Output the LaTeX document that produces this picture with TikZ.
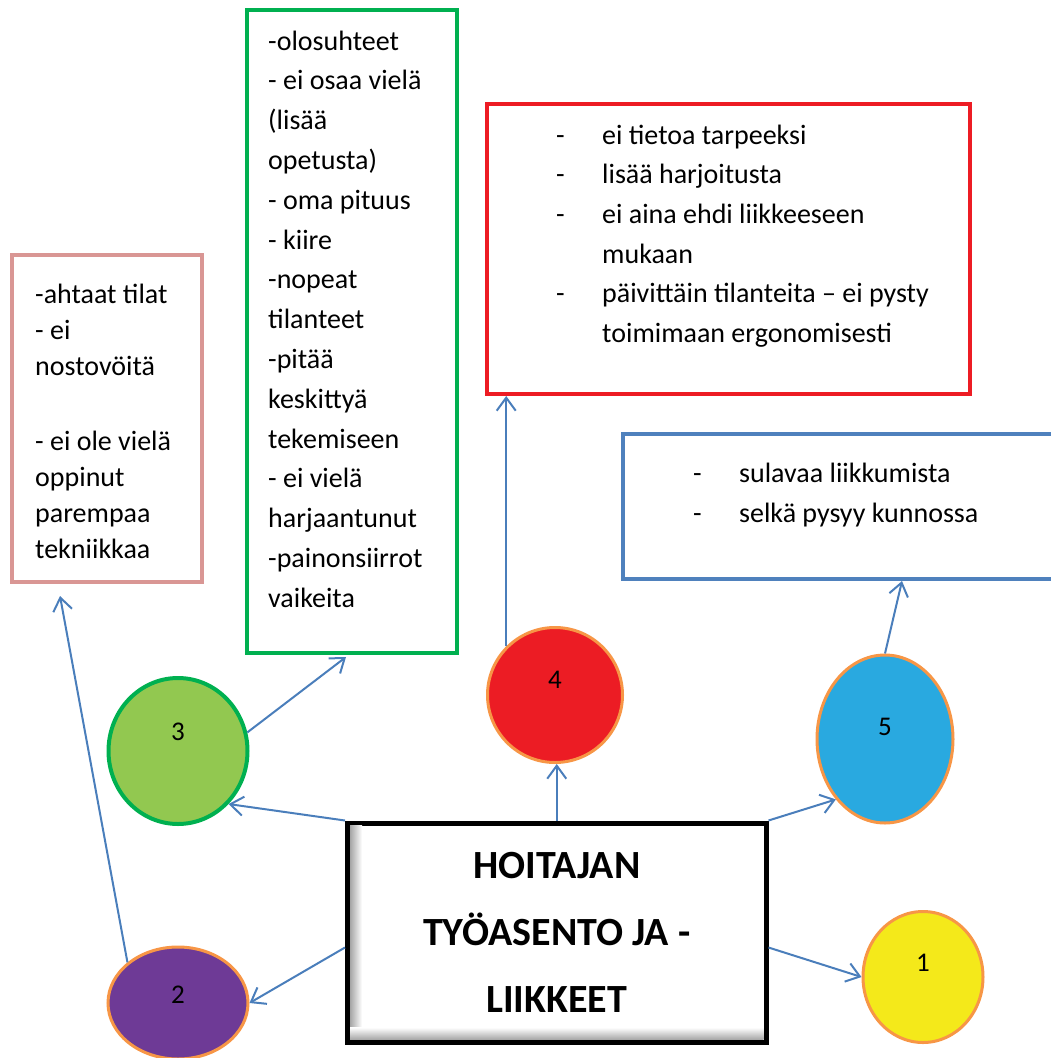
\documentclass[tikz,border=0pt]{standalone}
\usepackage{fontspec}
\setmainfont{Carlito}
\usetikzlibrary{arrows.meta,shapes.geometric}
\definecolor{arrowblue}{HTML}{4A7EBB}
\definecolor{boxpink}{HTML}{D99694}
\definecolor{boxgreen}{HTML}{00B050}
\definecolor{boxred}{HTML}{ED1C24}
\definecolor{boxblue}{HTML}{4F81BD}
\definecolor{ballgreen}{HTML}{92C850}
\definecolor{ballred}{HTML}{EC1C24}
\definecolor{ballblue}{HTML}{29A9E0}
\definecolor{ballpurple}{HTML}{6E3A96}
\definecolor{ballyellow}{HTML}{F4E91A}
\definecolor{ballrim}{HTML}{F79646}
\newcommand{\itemdash}{\makebox[46pt][l]{-}}
\newcommand{\itemgap}{\hspace*{46pt}}

\begin{document}
\begin{tikzpicture}[x=1pt,y=-1pt]
              \tikzstyle{frame}=[draw,line width=4pt,inner sep=0pt]
              \tikzstyle{list}=[anchor=north west,align=left,inner sep=0pt]
              \tikzstyle{ball}=[ellipse,draw=ballrim,line width=3pt,inner sep=0pt,font=\fontsize{27}{30}\selectfont]
              \tikzstyle{link}=[draw=arrowblue,line width=2pt,-{Straight Barb[length=13pt,width=19pt]}]
              \useasboundingbox (0,0) rectangle (1051,1058);
              \clip (0,0) rectangle (1051,1058);
              \node [frame,draw=boxpink,minimum width=190pt,minimum height=327pt] (b2) at (107,418.5) {};
              \node [frame,draw=boxgreen,minimum width=210pt,minimum height=643pt] (b3) at (352,331.5) {};
              \node [frame,draw=boxred,minimum width=483pt,minimum height=290pt] (b4) at (728.5,249) {};
              \node [frame,draw=boxblue,minimum width=558pt,minimum height=145pt] (b5) at (902,506.5) {};
              \node [list,font=\fontsize{28}{36}\selectfont] (t2) at (35,277.8) {\strut-ahtaat tilat\\- ei\\nostovöitä\\[39pt]- ei ole vielä\\oppinut\\parempaa\\tekniikkaa};
              \node [list,font=\fontsize{28}{39.8}\selectfont] (t3) at (268,22.1) {\strut-olosuhteet\\- ei osaa vielä\\(lisää\\opetusta)\\- oma pituus\\- kiire\\-nopeat\\tilanteet\\-pitää\\keskittyä\\tekemiseen\\- ei vielä\\harjaantunut\\-painonsiirrot\\vaikeita};
              \node [list,font=\fontsize{28}{39.6}\selectfont] (t4) at (556,116.3) {\strut\itemdash ei tietoa tarpeeksi\\\itemdash lisää harjoitusta\\\itemdash ei aina ehdi liikkeeseen\\\itemgap mukaan\\\itemdash päivittäin tilanteita – ei pysty\\\itemgap toimimaan ergonomisesti};
              \node [list,font=\fontsize{28}{40}\selectfont] (t5) at (693,454) {\strut\itemdash sulavaa liikkumista\\\itemdash selkä pysyy kunnossa};
              \node [ball,fill=ballgreen,draw=boxgreen,line width=4pt,minimum width=139pt,minimum height=146pt,text depth=38pt] (c3) at (178,751) {3};
              \node [ball,fill=ballred,minimum width=135pt,minimum height=135pt,text depth=30pt] (c4) at (555,695) {4};
              \node [ball,fill=ballblue,minimum width=136pt,minimum height=168pt,text depth=24pt] (c5) at (885,739) {5};
              \node [ball,fill=ballpurple,minimum width=140pt,minimum height=112pt,text depth=16pt] (c2) at (178,1003) {2};
              \node [ball,fill=ballyellow,minimum width=120pt,minimum height=131pt,text depth=28pt] (c1) at (923,977) {1};
              \node [draw,line width=5pt,fill=white,minimum width=418.5pt,minimum height=219pt,align=center,font=\fontsize{40}{67}\bfseries\selectfont] (main) at (556.75,932.5) {HOITAJAN\\TYÖASENTO JA -\\LIIKKEET};
              \shade [left color=gray!70,right color=white] ([xshift=5pt,yshift=-5pt]main.north west) rectangle ([xshift=17pt,yshift=5pt]main.south west);
              \shade [top color=white,bottom color=gray!70] ([xshift=5pt,yshift=17pt]main.south west) rectangle ([xshift=-5pt,yshift=5pt]main.south east);
              \draw [link] (main.north west) -- (c3.south east);
              \draw [link] (main.north) -- (main.north |- c4.south);
              \draw [link] (main.north east) -- (c5.south west);
              \draw [link] ([yshift=-15pt]main.west) -- (c2.east);
              \draw [link] ([yshift=-15pt]main.east) -- (c1.west);
              \draw [link] (c3.15) -- ([xshift=-6pt,yshift=-2pt]b3.south);
              \draw [link] (c4.north west) -- (c4.north west |- b4.south);
              \draw [link] (c5.north) -- (b5.south);
              \draw [link] (c2.north west) -- ([xshift=50pt,yshift=-12pt]b2.south west);
            \end{tikzpicture}
\end{document}
